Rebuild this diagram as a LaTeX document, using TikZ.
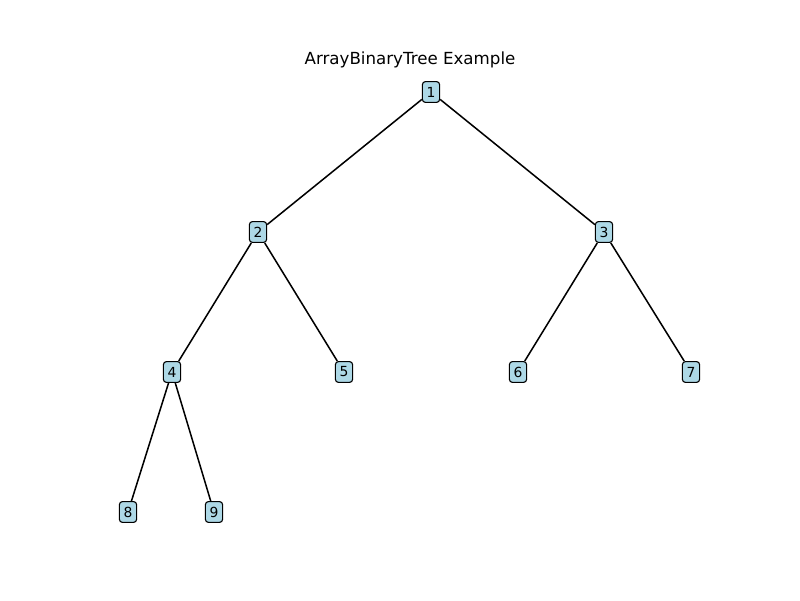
\documentclass[tikz,border=0pt]{standalone}
\usepackage{fontspec}
\setmainfont{DejaVu Sans}
\usetikzlibrary{calc}
\definecolor{lightblue}{RGB}{173,216,230}

\begin{document}
\begin{tikzpicture}[x=0.72pt, y=-0.72pt,
    treenode/.style={draw=black, fill=lightblue, rounded corners=2.2pt, line width=0.8pt,
        inner xsep=3pt, inner ysep=0pt, minimum height=15pt, font=\fontsize{10}{12}\selectfont},
    treeedge/.style={line width=1.1pt}]
            \useasboundingbox (0,0) rectangle (800,600);
            \node (title) at (410,60) {\fontsize{12}{14}\selectfont ArrayBinaryTree Example};
            \node[treenode] (n1) at (431,92) {1};
            \node[treenode] (n2) at (258,232) {2};
            \node[treenode] (n3) at (604,232) {3};
            \node[treenode] (n4) at (172,372) {4};
            \node[treenode] (n5) at (344,372) {5};
            \node[treenode] (n6) at (518,372) {6};
            \node[treenode] (n7) at (691,372) {7};
            \node[treenode] (n8) at (128,512) {8};
            \node[treenode] (n9) at (214,512) {9};
            \draw[treeedge] (n1) -- (n2);
            \draw[treeedge] (n1) -- (n3);
            \draw[treeedge] (n2) -- (n4);
            \draw[treeedge] (n2) -- (n5);
            \draw[treeedge] (n3) -- (n6);
            \draw[treeedge] (n3) -- (n7);
            \draw[treeedge] (n4) -- (n8);
            \draw[treeedge] (n4) -- (n9);
        \end{tikzpicture}
\end{document}
